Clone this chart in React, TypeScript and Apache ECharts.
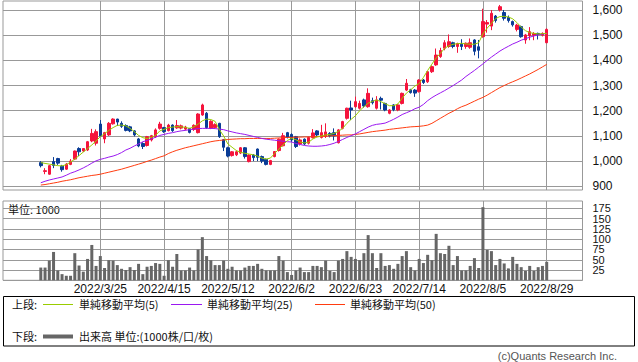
import React, { useEffect, useRef } from 'react';
import * as echarts from 'echarts';

const dates: string[] = [
  '2022/3/4', '2022/3/7', '2022/3/8', '2022/3/9', '2022/3/10', '2022/3/11',
  '2022/3/14', '2022/3/15', '2022/3/16', '2022/3/17', '2022/3/18',
  '2022/3/22', '2022/3/23', '2022/3/24', '2022/3/25',
  '2022/3/28', '2022/3/29', '2022/3/30', '2022/3/31', '2022/4/1',
  '2022/4/4', '2022/4/5', '2022/4/6', '2022/4/7', '2022/4/8',
  '2022/4/11', '2022/4/12', '2022/4/13', '2022/4/14', '2022/4/15',
  '2022/4/18', '2022/4/19', '2022/4/20', '2022/4/21', '2022/4/22',
  '2022/4/25', '2022/4/26', '2022/4/27', '2022/4/28',
  '2022/5/2', '2022/5/6',
  '2022/5/9', '2022/5/10', '2022/5/11', '2022/5/12', '2022/5/13',
  '2022/5/16', '2022/5/17', '2022/5/18', '2022/5/19', '2022/5/20',
  '2022/5/23', '2022/5/24', '2022/5/25', '2022/5/26', '2022/5/27',
  '2022/5/30', '2022/5/31', '2022/6/1', '2022/6/2', '2022/6/3',
  '2022/6/6', '2022/6/7', '2022/6/8', '2022/6/9', '2022/6/10',
  '2022/6/13', '2022/6/14', '2022/6/15', '2022/6/16', '2022/6/17',
  '2022/6/20', '2022/6/21', '2022/6/22', '2022/6/23', '2022/6/24',
  '2022/6/27', '2022/6/28', '2022/6/29', '2022/6/30', '2022/7/1',
  '2022/7/4', '2022/7/5', '2022/7/6', '2022/7/7', '2022/7/8',
  '2022/7/11', '2022/7/12', '2022/7/13', '2022/7/14', '2022/7/15',
  '2022/7/19', '2022/7/20', '2022/7/21', '2022/7/22',
  '2022/7/25', '2022/7/26', '2022/7/27', '2022/7/28', '2022/7/29',
  '2022/8/1', '2022/8/2', '2022/8/3', '2022/8/4', '2022/8/5',
  '2022/8/8', '2022/8/9', '2022/8/10', '2022/8/12',
  '2022/8/15', '2022/8/16', '2022/8/17', '2022/8/18', '2022/8/19',
  '2022/8/22', '2022/8/23', '2022/8/24', '2022/8/25', '2022/8/26',
  '2022/8/29',
];

// [open, close, low, high]
const ohlc: number[][] = [
  [994, 982, 975, 1000], [959, 962, 948, 972], [948, 982, 946, 985], [998, 983, 972, 1016],
  [1010, 992, 985, 1013], [980, 966, 958, 985], [968, 988, 965, 992], [987, 1000, 984, 1008],
  [1008, 1040, 1004, 1042], [1050, 1037, 1020, 1055], [1040, 1050, 1036, 1052], [1044, 1077, 1040, 1080],
  [1080, 1110, 1075, 1128], [1071, 1117, 1062, 1126], [1147, 1100, 1096, 1163], [1088, 1113, 1071, 1116],
  [1104, 1150, 1100, 1155], [1148, 1167, 1145, 1170], [1167, 1155, 1140, 1168], [1150, 1138, 1132, 1158],
  [1141, 1122, 1118, 1146], [1136, 1120, 1115, 1140], [1120, 1104, 1098, 1123], [1088, 1060, 1055, 1092],
  [1070, 1058, 1048, 1075], [1062, 1097, 1058, 1100], [1084, 1101, 1078, 1104], [1097, 1124, 1092, 1130],
  [1130, 1147, 1125, 1156], [1133, 1117, 1112, 1136], [1121, 1143, 1118, 1148], [1143, 1121, 1116, 1146],
  [1132, 1141, 1128, 1163], [1131, 1140, 1126, 1145], [1127, 1135, 1122, 1140], [1129, 1114, 1110, 1132],
  [1126, 1142, 1120, 1146], [1113, 1187, 1110, 1190], [1183, 1223, 1180, 1228], [1190, 1133, 1128, 1195],
  [1130, 1158, 1127, 1162], [1133, 1145, 1128, 1150], [1150, 1097, 1092, 1152], [1085, 1055, 1040, 1088],
  [1053, 1020, 1015, 1057], [1022, 1037, 1018, 1040], [1025, 1037, 1020, 1042], [1032, 1053, 1028, 1056],
  [1053, 1018, 1010, 1056], [998, 1024, 995, 1027], [1024, 1014, 1000, 1028], [1048, 1015, 1000, 1050],
  [1018, 1000, 992, 1022], [1007, 987, 983, 1010], [987, 1002, 984, 1005], [1018, 1038, 1015, 1040],
  [1042, 1087, 1038, 1090], [1061, 1101, 1058, 1112], [1113, 1095, 1090, 1116], [1106, 1084, 1076, 1110],
  [1097, 1058, 1052, 1100], [1068, 1084, 1062, 1090], [1087, 1068, 1064, 1090], [1071, 1094, 1066, 1097],
  [1093, 1112, 1090, 1127], [1120, 1104, 1098, 1123], [1094, 1113, 1090, 1144], [1098, 1116, 1092, 1150],
  [1110, 1100, 1094, 1115], [1113, 1100, 1082, 1130], [1073, 1124, 1070, 1127], [1130, 1157, 1126, 1160],
  [1170, 1210, 1165, 1212], [1211, 1203, 1163, 1240], [1216, 1236, 1212, 1256], [1210, 1229, 1205, 1240],
  [1243, 1219, 1212, 1248], [1216, 1269, 1212, 1289], [1240, 1232, 1225, 1252], [1210, 1243, 1205, 1258],
  [1249, 1242, 1205, 1256], [1229, 1203, 1198, 1232], [1190, 1203, 1186, 1206], [1223, 1204, 1198, 1226],
  [1203, 1223, 1198, 1227], [1229, 1269, 1225, 1272], [1282, 1309, 1278, 1326], [1283, 1272, 1268, 1287],
  [1282, 1270, 1255, 1286], [1276, 1322, 1272, 1325], [1322, 1312, 1306, 1326], [1315, 1355, 1310, 1358],
  [1355, 1375, 1350, 1380], [1382, 1421, 1378, 1447], [1415, 1439, 1410, 1450], [1448, 1470, 1440, 1480],
  [1455, 1474, 1450, 1503], [1470, 1455, 1448, 1474], [1455, 1467, 1430, 1470], [1464, 1455, 1441, 1484],
  [1455, 1468, 1446, 1471], [1452, 1470, 1446, 1487], [1481, 1436, 1420, 1484], [1454, 1440, 1408, 1481],
  [1494, 1554, 1490, 1605], [1544, 1550, 1510, 1560], [1536, 1587, 1520, 1600], [1576, 1558, 1550, 1580],
  [1600, 1613, 1594, 1620], [1590, 1567, 1558, 1600], [1571, 1558, 1550, 1578], [1554, 1541, 1534, 1558],
  [1523, 1540, 1515, 1545], [1534, 1494, 1490, 1538], [1481, 1501, 1466, 1505], [1498, 1514, 1480, 1532],
  [1500, 1507, 1480, 1512], [1507, 1503, 1483, 1510], [1500, 1507, 1495, 1511], [1470, 1523, 1468, 1527],
];

const volume: number[] = [
  31, 31, 48, 69, 24, 15, 11, 11, 66, 36, 21, 52, 86, 35, 59, 30, 49, 48, 37, 28,
  25, 32, 25, 40, 15, 33, 35, 42, 40, 11, 49, 33, 64, 24, 24, 31, 24, 75, 105, 59,
  49, 37, 37, 48, 28, 33, 24, 24, 31, 35, 35, 40, 28, 24, 24, 24, 59, 48, 20, 13,
  24, 31, 20, 20, 35, 35, 32, 48, 23, 20, 48, 52, 71, 57, 52, 49, 66, 110, 66, 30,
  66, 35, 37, 28, 40, 59, 71, 32, 24, 52, 42, 62, 49, 113, 66, 64, 84, 37, 59, 24,
  24, 35, 54, 30, 178, 74, 71, 37, 52, 41, 29, 57, 40, 32, 23, 35, 23, 32, 35, 45,
];

const ma5: number[] = [
  994, 991, 988, 985, 982, 981, 986, 996, 1008, 1022, 1036, 1050, 1064, 1080, 1097, 1109, 1122, 1133, 1142, 1143,
  1140, 1130, 1117, 1102, 1093, 1090, 1094, 1102, 1120, 1126, 1133, 1135, 1137, 1136, 1134, 1130, 1136, 1147, 1160, 1167,
  1165, 1158, 1125, 1100, 1068, 1055, 1042, 1035, 1031, 1028, 1025, 1020, 1012, 1008, 1012, 1030, 1048, 1064, 1082, 1090,
  1085, 1076, 1072, 1075, 1088, 1096, 1100, 1104, 1106, 1110, 1118, 1130, 1150, 1166, 1180, 1200, 1216, 1230, 1237, 1243,
  1236, 1228, 1220, 1220, 1227, 1250, 1270, 1283, 1298, 1308, 1332, 1360, 1385, 1410, 1428, 1448, 1458, 1464, 1466, 1468,
  1465, 1464, 1464, 1470, 1505, 1528, 1547, 1566, 1574, 1575, 1572, 1565, 1550, 1532, 1518, 1510, 1507, 1505, 1506, 1507,
];

const ma25: number[] = [
  914, 920, 925, 929, 933, 937, 944, 952, 958, 965, 973, 982, 992, 1001, 1007, 1011, 1016, 1020, 1026, 1034,
  1044, 1051, 1060, 1068, 1077, 1082, 1088, 1095, 1102, 1106, 1110, 1113, 1117, 1120, 1122, 1125, 1127, 1129, 1130, 1130,
  1130, 1129, 1127, 1125, 1120, 1116, 1112, 1109, 1106, 1102, 1098, 1094, 1090, 1087, 1085, 1083, 1081, 1079, 1077, 1076,
  1070, 1066, 1062, 1060, 1059, 1059, 1060, 1062, 1066, 1071, 1078, 1086, 1094, 1101, 1108, 1117, 1126, 1135, 1142, 1146,
  1148, 1151, 1158, 1166, 1175, 1185, 1192, 1199, 1208, 1214, 1225, 1240, 1252, 1262, 1271, 1280, 1290, 1300, 1311, 1322,
  1336, 1348, 1360, 1373, 1386, 1400, 1413, 1425, 1437, 1447, 1456, 1465, 1472, 1480, 1486, 1492, 1497, 1501, 1504, 1507,
];

const ma50: number[] = [
  905, 907, 910, 913, 916, 920, 923, 926, 930, 934, 937, 940, 943, 945, 948, 952, 956, 960, 964, 968,
  973, 978, 983, 988, 993, 999, 1004, 1010, 1016, 1021, 1030, 1037, 1043, 1048, 1053, 1057, 1061, 1065, 1069, 1073,
  1077, 1080, 1082, 1084, 1086, 1087, 1088, 1089, 1089, 1090, 1090, 1090, 1090, 1090, 1090, 1091, 1092, 1093, 1094, 1094,
  1095, 1095, 1096, 1096, 1097, 1097, 1098, 1099, 1100, 1101, 1102, 1103, 1104, 1104, 1106, 1108, 1111, 1114, 1117, 1119,
  1121, 1123, 1126, 1128, 1130, 1132, 1134, 1136, 1137, 1138, 1140, 1143, 1150, 1160, 1170, 1180, 1190, 1198, 1208, 1216,
  1222, 1230, 1238, 1246, 1253, 1262, 1272, 1282, 1292, 1300, 1308, 1315, 1322, 1330, 1338, 1346, 1355, 1364, 1374, 1384,
];

const priceTicks: number[] = [900, 1000, 1100, 1200, 1300, 1400, 1500, 1600];
const volumeTicks: number[] = [25, 50, 75, 100, 125, 150, 175];
const dateTickLabels: string[] = [
  '2022/3/25', '2022/4/15', '2022/5/12', '2022/6/2', '2022/6/23', '2022/7/14', '2022/8/5', '2022/8/29',
];

const UP = '#f5143c';
const DOWN = '#0a3c96';
const C5 = '#99cc00';
const C25 = '#9a18f0';
const C50 = '#ff3c10';
const GRID = '#999999';

function fmtComma(v: number): string {
  return String(Math.round(v)).replace(/\B(?=(\d{3})+(?!\d))/g, ',');
}

export default function App() {
  const ref = useRef<HTMLDivElement>(null);

  useEffect(() => {
    if (!ref.current) return;
    const chart = echarts.init(ref.current, undefined, { renderer: 'svg' });
    const dateIdx = dateTickLabels.map((d) => dates.indexOf(d));
    const xMin = -8.89;
    const xMax = 127.42;
    const cjk = '"Noto Sans CJK JP", "Noto Sans", sans-serif';
    const latin = '"Liberation Sans", Arial, sans-serif';
    const volOdd = volumeTicks.filter((_, i) => i % 2 === 0);
    const volEven = volumeTicks.filter((_, i) => i % 2 === 1);

    const xAxisBase = {
      type: 'value' as const,
      min: xMin,
      max: xMax,
      axisLine: { show: false },
      axisTick: { show: false, customValues: dateIdx },
      splitLine: { show: true, lineStyle: { color: GRID, width: 1 } },
    };

    const volLabel = (vals: number[]) => ({
      customValues: vals,
      showMinLabel: true,
      showMaxLabel: true,
      hideOverlap: false,
      fontFamily: latin,
      fontSize: 11,
      lineHeight: 10,
      color: '#111',
      margin: 10,
    });

    const option: any = {
      animation: false,
      backgroundColor: '#ffffff',
      grid: [
        { left: 3, top: 1, width: 579.5, height: 189, show: true, borderColor: GRID, borderWidth: 1 },
        { left: 3, top: 201, width: 579.5, height: 79.3, show: true, borderColor: GRID, borderWidth: 1 },
      ],
      xAxis: [
        { ...xAxisBase, gridIndex: 0, axisLabel: { show: false, customValues: dateIdx } },
        {
          ...xAxisBase,
          gridIndex: 1,
          axisLabel: {
            show: true,
            customValues: dateIdx,
            formatter: (v: number) => dates[Math.round(v)] || '',
            fontFamily: '"Liberation Sans Narrow", "Liberation Sans", sans-serif',
            fontSize: 12,
            color: '#111',
            margin: 3,
          },
        },
      ],
      yAxis: [
        {
          type: 'value',
          gridIndex: 0,
          position: 'right',
          min: 885.3,
          max: 1635.7,
          axisLine: { show: false },
          axisTick: { show: true, length: 5, customValues: priceTicks, lineStyle: { color: GRID } },
          axisLabel: {
            customValues: priceTicks,
            formatter: (v: number) => fmtComma(v),
            fontFamily: latin,
            fontSize: 12,
            color: '#111',
            margin: 10,
          },
          splitLine: { show: true, lineStyle: { color: GRID, width: 1 } },
        },
        {
          type: 'value',
          gridIndex: 1,
          position: 'right',
          offset: 0,
          min: 0,
          max: 193,
          axisLine: { show: false },
          axisTick: { show: true, length: 5, customValues: [0, ...volumeTicks], lineStyle: { color: GRID } },
          axisLabel: volLabel(volOdd),
          splitLine: { show: true, lineStyle: { color: GRID, width: 1 } },
        },
        {
          type: 'value',
          gridIndex: 1,
          position: 'right',
          offset: 0,
          min: 0,
          max: 193,
          axisLine: { show: false },
          axisTick: { show: false, customValues: volEven },
          axisLabel: volLabel(volEven),
          splitLine: { show: false },
        },
      ],
      series: [
        {
          type: 'candlestick',
          xAxisIndex: 0,
          yAxisIndex: 0,
          barWidth: 3,
          encode: { x: 0, y: [1, 2, 3, 4] },
          data: ohlc.map((d, i) => [i, d[0], d[1], d[2], d[3]]),
          itemStyle: { color: UP, color0: DOWN, borderColor: UP, borderColor0: DOWN, borderWidth: 1 },
          z: 2,
        },
        {
          type: 'line', xAxisIndex: 0, yAxisIndex: 0, symbol: 'none', z: 3,
          data: ma50.map((v, i) => [i, v]), lineStyle: { color: C50, width: 1 },
        },
        {
          type: 'line', xAxisIndex: 0, yAxisIndex: 0, symbol: 'none', z: 3,
          data: ma25.map((v, i) => [i, v]), lineStyle: { color: C25, width: 1 },
        },
        {
          type: 'line', xAxisIndex: 0, yAxisIndex: 0, symbol: 'none', z: 3,
          data: ma5.map((v, i) => [i, v]), lineStyle: { color: C5, width: 1 },
        },
        {
          type: 'bar',
          xAxisIndex: 1,
          yAxisIndex: 1,
          barWidth: 3,
          data: volume.map((v, i) => [i, v]),
          itemStyle: { color: '#666666' },
        },
      ],
      graphic: [
        {
          type: 'text', left: 8, top: 203,
          style: { text: '単位: 1000', font: `11px ${cjk}`, fill: '#111' },
        },
        {
          type: 'rect', shape: { x: 3.5, y: 296.5, width: 631, height: 49.5 },
          style: { fill: 'none', stroke: '#000', lineWidth: 1 },
        },
        { type: 'text', x: 12, y: 304, style: { text: '上段:', font: `11px ${cjk}`, fill: '#111', verticalAlign: 'middle' } },
        { type: 'line', shape: { x1: 43, y1: 304.5, x2: 73, y2: 304.5 }, style: { stroke: C5, lineWidth: 1 } },
        { type: 'text', x: 79, y: 304, style: { text: '単純移動平均(5)', font: `11px ${cjk}`, fill: '#111', verticalAlign: 'middle' } },
        { type: 'line', shape: { x1: 171, y1: 304.5, x2: 202, y2: 304.5 }, style: { stroke: C25, lineWidth: 1 } },
        { type: 'text', x: 207, y: 304, style: { text: '単純移動平均(25)', font: `11px ${cjk}`, fill: '#111', verticalAlign: 'middle' } },
        { type: 'line', shape: { x1: 315, y1: 304.5, x2: 345, y2: 304.5 }, style: { stroke: C50, lineWidth: 1 } },
        { type: 'text', x: 350, y: 304, style: { text: '単純移動平均(50)', font: `11px ${cjk}`, fill: '#111', verticalAlign: 'middle' } },
        { type: 'text', x: 12, y: 336, style: { text: '下段:', font: `11px ${cjk}`, fill: '#111', verticalAlign: 'middle' } },
        { type: 'line', shape: { x1: 43, y1: 336.5, x2: 73, y2: 336.5 }, style: { stroke: '#666', lineWidth: 4 } },
        { type: 'text', x: 79, y: 336, style: { text: '出来高 単位:(1000株/口/枚)', font: `11px ${cjk}`, fill: '#111', verticalAlign: 'middle' } },
        { type: 'text', x: 617, y: 356, style: { text: '(c)Quants Research Inc.', font: `11px ${latin}`, fill: '#555', align: 'right', verticalAlign: 'middle' } },
      ],
    };

    chart.setOption(option);
    return () => chart.dispose();
  }, []);

  return (
    <div
      ref={ref}
      style={{ position: 'absolute', left: 0, top: 0, width: 638, height: 362, background: '#fff' }}
    />
  );
}
